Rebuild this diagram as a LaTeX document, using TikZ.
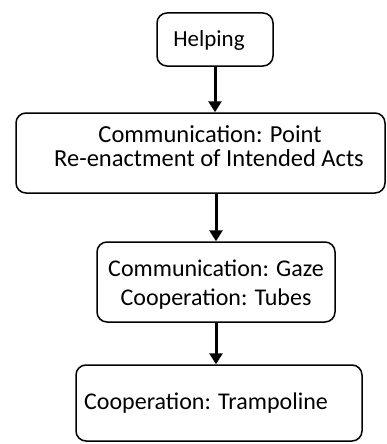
\documentclass[tikz,border=0pt]{standalone}
\usepackage{fontspec}
\setmainfont{Carlito}
\usetikzlibrary{arrows.meta}
\begin{document}
\begin{tikzpicture}[x=1pt,y=-1pt,
 box/.style={draw=black, line width=1.5pt, rounded corners=10pt, inner sep=0pt},
 txt/.style={font=\fontsize{23}{24}\selectfont, inner sep=0pt, anchor=base},
 txtb/.style={txt, font=\fontsize{24.5}{25}\selectfont},
 txtc/.style={txt, font=\fontsize{24}{25}\selectfont},
 conn/.style={line width=3pt, -{Triangle[width=13pt,length=11pt]}}]
\useasboundingbox (0,0) rectangle (387,444);
\node[box, minimum width=116pt, minimum height=53pt] (h) at (215,39.5) {};
\node[box, minimum width=369pt, minimum height=80pt] (c) at (200.5,153) {};
\node[box, minimum width=238pt, minimum height=80pt] (g) at (216,282) {};
\node[box, minimum width=286pt, minimum height=76pt] (t) at (219,403) {};
\node[txt] (h1) at (209,47) {Helping};
\node[txtb] (c1) at (210,142) {Communication: Point};
\node[txtb] (c2) at (209,166) {Re-enactment of Intended Acts};
\node[txtc] (g1) at (216,276) {Communication: Gaze};
\node[txtc] (g2) at (216,305) {Cooperation: Tubes};
\node[txtc] (t1) at (206,409) {Cooperation: Trampoline};
\draw[conn] (h.south) -- (h.south |- c.north);
\draw[conn] (c.south -| g.north) -- (g.north);
\draw[conn] (g.south) -- (g.south |- t.north);
\end{tikzpicture}
\end{document}
